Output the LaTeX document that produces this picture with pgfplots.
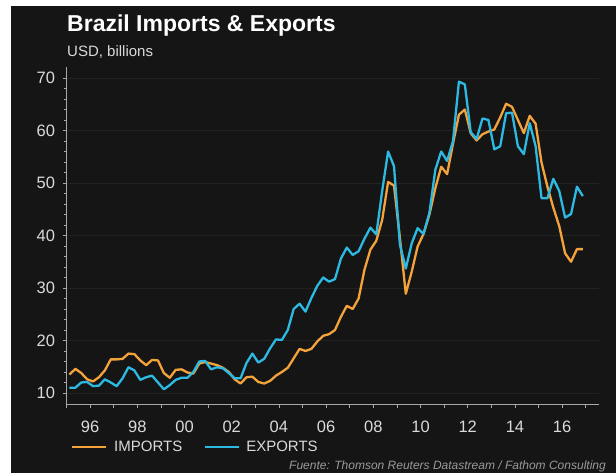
\documentclass[border=0pt]{standalone}
\usepackage{fontspec}
\setmainfont{Liberation Sans}
\usepackage{pgfplots}
\pgfplotsset{compat=1.18}
\usepackage{pgfplotstable}
\definecolor{bg}{HTML}{151515}
\definecolor{impc}{HTML}{F4A33A}
\definecolor{expc}{HTML}{2CB9E2}
\definecolor{ticktxt}{HTML}{DADADA}
\definecolor{axcol}{HTML}{A8A8A8}
\definecolor{gridc}{HTML}{222222}
\definecolor{srccol}{HTML}{9A9A9A}

\pgfplotstableread{
t imp exp
1995.125 13.5 11.0
1995.375 14.6 11.0
1995.625 13.8 12.0
1995.875 12.6 12.1
1996.125 12.2 11.3
1996.375 13.0 11.4
1996.625 14.3 12.6
1996.875 16.4 12.0
1997.125 16.4 11.3
1997.375 16.5 12.8
1997.625 17.5 14.9
1997.875 17.4 14.3
1998.125 16.2 12.5
1998.375 15.3 13.0
1998.625 16.3 13.3
1998.875 16.2 12.0
1999.125 13.8 10.7
1999.375 12.9 11.5
1999.625 14.4 12.5
1999.875 14.5 12.9
2000.125 13.9 12.9
2000.375 13.7 14.0
2000.625 15.6 16.0
2000.875 15.9 16.1
2001.125 15.6 14.5
2001.375 15.3 14.9
2001.625 14.8 14.7
2001.875 14.0 13.8
2002.125 12.6 12.8
2002.375 11.8 12.8
2002.625 13.0 15.7
2002.875 13.1 17.5
2003.125 12.1 15.8
2003.375 11.8 16.5
2003.625 12.3 18.5
2003.875 13.3 20.2
2004.125 14.0 20.1
2004.375 14.8 22.0
2004.625 16.6 26.0
2004.875 18.4 27.0
2005.125 18.0 25.5
2005.375 18.4 28.1
2005.625 19.8 30.4
2005.875 20.9 32.0
2006.125 21.2 31.2
2006.375 22.0 31.7
2006.625 24.5 35.6
2006.875 26.6 37.7
2007.125 26.0 36.3
2007.375 28.0 37.0
2007.625 33.5 39.4
2007.875 37.3 41.5
2008.125 39.0 40.2
2008.375 43.0 48.5
2008.625 50.2 56.0
2008.875 49.5 53.2
2009.125 39.5 38.3
2009.375 28.9 33.7
2009.625 33.1 38.5
2009.875 37.9 41.4
2010.125 40.3 40.3
2010.375 44.0 44.3
2010.625 49.0 52.5
2010.875 53.1 56.0
2011.125 51.7 54.2
2011.375 57.5 58.0
2011.625 63.0 69.3
2011.875 64.0 68.8
2012.125 59.5 59.7
2012.375 58.1 58.4
2012.625 59.3 62.3
2012.875 59.8 62.0
2013.125 60.2 56.4
2013.375 62.5 57.0
2013.625 65.1 63.3
2013.875 64.5 63.4
2014.125 62.0 57.0
2014.375 59.5 55.5
2014.625 62.8 61.4
2014.875 61.3 57.0
2015.125 53.9 47.1
2015.375 49.3 47.1
2015.625 45.3 50.8
2015.875 41.8 48.5
2016.125 36.6 43.4
2016.375 35.0 44.1
2016.625 37.4 49.3
2016.875 37.4 47.5
}\data

\begin{document}
\begin{tikzpicture}[x=1pt,y=1pt]
\fill[white] (0,0) rectangle (616,473);
\fill[bg] (11,0) rectangle (616,467);
\node[anchor=base west, inner sep=0pt, text=white, font=\fontsize{23}{26}\selectfont\bfseries] at (67,441) {Brazil Imports \& Exports};
\node[anchor=base west, inner sep=0pt, text=ticktxt, font=\fontsize{15}{17}\selectfont] at (67,416) {USD, billions};
\begin{axis}[
  at={(66.5pt,69pt)}, anchor=south west,
  scale only axis, width=532.5pt, height=337pt,
  xmin=1995, xmax=2017.56, ymin=7.9, ymax=72.1,
  axis x line*=bottom, axis y line*=left,
  axis line style={axcol, line width=0.8pt, -},
  tick style={axcol, line width=0.7pt},
  tick align=outside,
  major tick length=4pt, minor tick length=2.5pt,
  ytick={10,20,...,70}, minor y tick num=4,
  xtick={1995,...,2017}, minor x tick num=3,
  xticklabels={,96,,98,,00,,02,,04,,06,,08,,10,,12,,14,,16,},
  ymajorgrids, grid style={gridc, line width=0.6pt},
  ticklabel style={font=\fontsize{16.5}{18}\selectfont, text=ticktxt},
  /pgf/number format/assume math mode=true,
  yticklabel style={xshift=-4pt},
  xticklabel style={yshift=-9.5pt},
  legend columns=2,
  legend image code/.code={\draw[#1, line width=2.5pt] (0pt,0pt) -- (34pt,0pt);},
  legend style={at={(axis description cs:0.0085,-0.1276)}, anchor=west, draw=none, fill=none,
    inner sep=0pt, column sep=6.5pt, nodes={inner sep=0pt, text=ticktxt},
    font=\fontsize{15}{17}\selectfont},
]
\addplot[impc, line width=2.3pt, line join=round] table[x=t, y=imp] {\data};
\addlegendentry{IMPORTS\hspace*{14.5pt}}
\addplot[expc, line width=2.3pt, line join=round] table[x=t, y=exp] {\data};
\addlegendentry{EXPORTS}
\end{axis}
\node[anchor=base east, inner sep=0pt, text=srccol, font=\fontsize{12}{14}\selectfont\itshape] at (606,3.5) {Fuente: Thomson Reuters Datastream / Fathom Consulting};
\pgfresetboundingbox
\path (0,0) rectangle (616,473);
\end{tikzpicture}
\end{document}
